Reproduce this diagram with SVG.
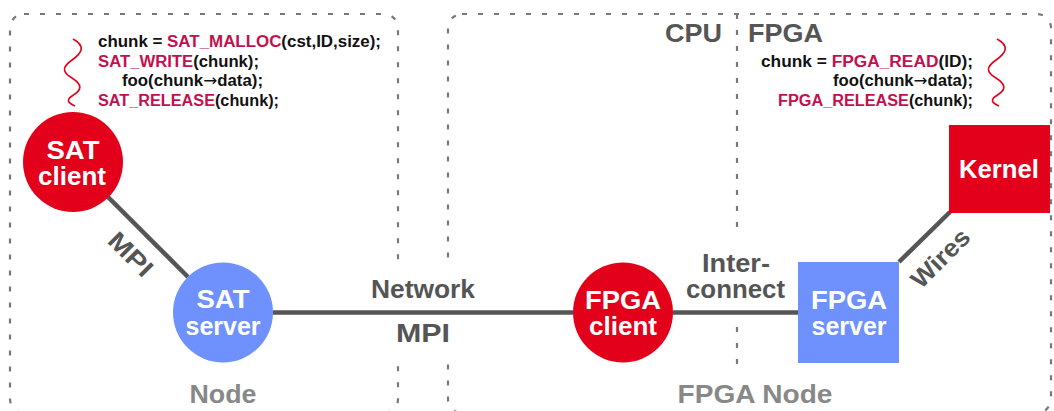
<svg xmlns="http://www.w3.org/2000/svg" width="1054" height="411" viewBox="0 0 1054 411">
<defs>
<style>
.box{fill:none;stroke:#787878;stroke-width:2.2;stroke-dasharray:5 11}
.conn{stroke:#555;stroke-width:4.5;fill:none}
.lbl{font-family:"Liberation Sans",Arial,sans-serif;font-weight:bold;font-size:25px;fill:#555;text-anchor:middle}
.area{font-family:"Liberation Sans",Arial,sans-serif;font-weight:bold;font-size:25px;fill:#888;text-anchor:middle}
.ntxt{font-family:"Liberation Sans",Arial,sans-serif;font-weight:bold;font-size:25px;fill:#fff;text-anchor:middle}
.code{font-family:"Liberation Sans","DejaVu Sans",Arial,sans-serif;font-weight:bold;font-size:16px;fill:#111}
.arr{font-family:"DejaVu Sans",sans-serif;font-weight:normal}
.fn{fill:#c4104e}
.red{fill:#e3001b}
.blue{fill:#6e91fe}
.wave{fill:none;stroke:#e3001b;stroke-width:1.6}
</style>
<path id="wave" class="wave" d="M73,39 C86,46 82,53 72,60 C62,67 62,72 72,78 C83,85 82,90 72,96 C66,100 68,103 75,106"/>
</defs>
<rect width="1054" height="411" fill="#fff"/>
<g id="areas">
<rect class="box" x="10" y="14" width="388" height="399" rx="14"/>
<rect class="box" x="448" y="14" width="603" height="399" rx="14"/>
<rect x="390" y="262" width="66" height="101" fill="#fff"/>
<line class="box" x1="737" y1="14" x2="737" y2="238"/>
<line class="box" x1="737" y1="327" x2="737" y2="366"/>
<text class="area" x="223" y="403" textLength="67" lengthAdjust="spacingAndGlyphs">Node</text>
<text class="area" x="755" y="403" textLength="155" lengthAdjust="spacingAndGlyphs">FPGA Node</text>
<text class="lbl" x="693.5" y="42" textLength="57" lengthAdjust="spacingAndGlyphs">CPU</text>
<text class="lbl" x="785.5" y="42" textLength="75" lengthAdjust="spacingAndGlyphs">FPGA</text>
</g>
<g id="code-left">
<use href="#wave"/>
<text class="code" x="98" y="47" textLength="283" lengthAdjust="spacingAndGlyphs">chunk = <tspan class="fn">SAT_MALLOC</tspan>(cst,ID,size);</text>
<text class="code" x="98" y="66.5" textLength="161" lengthAdjust="spacingAndGlyphs"><tspan class="fn">SAT_WRITE</tspan>(chunk);</text>
<text class="code" x="122" y="86" textLength="141" lengthAdjust="spacingAndGlyphs">foo(chunk<tspan class="arr">→</tspan>data);</text>
<text class="code" x="98" y="105.5" textLength="181" lengthAdjust="spacingAndGlyphs"><tspan class="fn">SAT_RELEASE</tspan>(chunk);</text>
</g>
<g id="code-right">
<use href="#wave" transform="translate(924,0)"/>
<text class="code" x="761" y="66.5" textLength="212" lengthAdjust="spacingAndGlyphs">chunk = <tspan class="fn">FPGA_READ</tspan>(ID);</text>
<text class="code" x="833" y="86" textLength="140" lengthAdjust="spacingAndGlyphs">foo(chunk<tspan class="arr">→</tspan>data);</text>
<text class="code" x="778" y="105.5" textLength="195" lengthAdjust="spacingAndGlyphs"><tspan class="fn">FPGA_RELEASE</tspan>(chunk);</text>
</g>
<g id="connectors">
<line class="conn" x1="108" y1="197" x2="188" y2="277"/>
<line class="conn" x1="273" y1="312.5" x2="573" y2="312.5"/>
<line class="conn" x1="673" y1="312.5" x2="798" y2="312.5"/>
<line class="conn" x1="899" y1="262" x2="950" y2="212"/>
<text class="lbl" transform="translate(131,254) rotate(45)" x="0" y="9" textLength="52" lengthAdjust="spacingAndGlyphs">MPI</text>
<text class="lbl" x="423" y="298" textLength="104" lengthAdjust="spacingAndGlyphs">Network</text>
<text class="lbl" x="423" y="342" textLength="54" lengthAdjust="spacingAndGlyphs">MPI</text>
<text class="lbl" x="736" y="272" textLength="68" lengthAdjust="spacingAndGlyphs">Inter-</text>
<text class="lbl" x="735.5" y="298" textLength="99" lengthAdjust="spacingAndGlyphs">connect</text>
<text class="lbl" transform="translate(940,258) rotate(-45)" x="0" y="9" textLength="72" lengthAdjust="spacingAndGlyphs">Wires</text>
</g>
<g id="sat-client">
<circle class="red" cx="73" cy="162" r="50"/>
<text class="ntxt" x="73" y="159" textLength="53" lengthAdjust="spacingAndGlyphs">SAT</text>
<text class="ntxt" x="72" y="185" textLength="68" lengthAdjust="spacingAndGlyphs">client</text>
</g>
<g id="sat-server">
<circle class="blue" cx="223" cy="312.5" r="50"/>
<text class="ntxt" x="223" y="308" textLength="53" lengthAdjust="spacingAndGlyphs">SAT</text>
<text class="ntxt" x="223" y="335" textLength="75" lengthAdjust="spacingAndGlyphs">server</text>
</g>
<g id="fpga-client">
<circle class="red" cx="623" cy="312.5" r="50"/>
<text class="ntxt" x="623" y="309" textLength="76" lengthAdjust="spacingAndGlyphs">FPGA</text>
<text class="ntxt" x="623" y="335" textLength="68" lengthAdjust="spacingAndGlyphs">client</text>
</g>
<g id="fpga-server">
<rect class="blue" x="798" y="262" width="101" height="101"/>
<text class="ntxt" x="849" y="309" textLength="76" lengthAdjust="spacingAndGlyphs">FPGA</text>
<text class="ntxt" x="849" y="335" textLength="75" lengthAdjust="spacingAndGlyphs">server</text>
</g>
<g id="kernel">
<rect class="red" x="949" y="125" width="101" height="88"/>
<text class="ntxt" x="999" y="178" textLength="80" lengthAdjust="spacingAndGlyphs">Kernel</text>
</g>
</svg>
